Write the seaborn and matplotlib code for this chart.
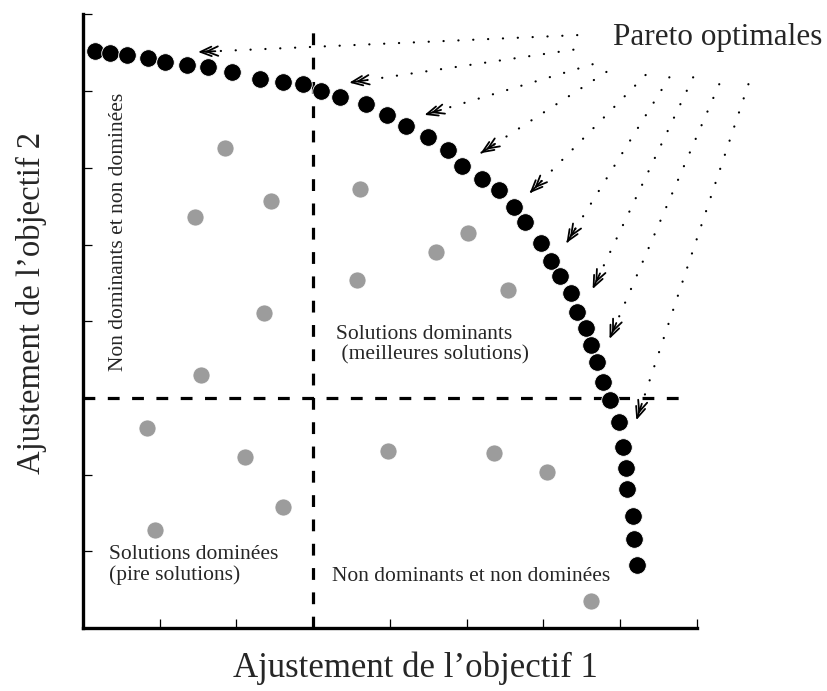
import matplotlib
matplotlib.use("Agg")
import matplotlib.pyplot as plt
import numpy as np
import pandas as pd
import seaborn as sns

# Pareto front (black points)
pareto_x = [0.16, 0.35, 0.57, 0.85, 1.07, 1.36, 1.63, 1.94, 2.31, 2.61,
            2.87, 3.10, 3.35, 3.69, 3.96, 4.21, 4.49, 4.75, 4.94, 5.20,
            5.42, 5.61, 5.76, 5.97, 6.10, 6.22, 6.36, 6.44, 6.55, 6.62,
            6.70, 6.78, 6.86, 6.98, 7.03, 7.07, 7.09, 7.16, 7.18, 7.22]
pareto_y = [7.52, 7.50, 7.47, 7.43, 7.38, 7.34, 7.31, 7.25, 7.16, 7.12,
            7.09, 7.00, 6.92, 6.83, 6.69, 6.55, 6.40, 6.23, 6.02, 5.85,
            5.71, 5.49, 5.29, 5.02, 4.78, 4.59, 4.37, 4.12, 3.91, 3.69,
            3.47, 3.21, 2.97, 2.69, 2.36, 2.09, 1.81, 1.46, 1.16, 0.82]

# other solutions (grey points)
other_x = [1.85, 2.45, 1.46, 3.61, 4.60, 5.01, 3.57, 5.54, 2.36,
           1.54, 0.83, 2.11, 3.98, 5.36, 6.05, 2.61, 0.94, 6.62]
other_y = [6.26, 5.57, 5.36, 5.72, 4.90, 5.15, 4.54, 4.41, 4.11,
           3.30, 2.61, 2.23, 2.31, 2.28, 2.03, 1.58, 1.28, 0.35]

# dotted arrows from the "Pareto optimales" label to the front
arrow_tail_x = [6.44, 6.39, 6.64, 6.82, 7.33, 7.64, 7.95, 8.29, 8.67]
arrow_tail_y = [7.73, 7.54, 7.35, 7.25, 7.21, 7.18, 7.18, 7.09, 7.09]
arrow_head_x = [1.50, 3.47, 4.45, 5.18, 5.82, 6.30, 6.64, 6.86, 7.21]
arrow_head_y = [7.51, 7.11, 6.69, 6.19, 5.67, 5.02, 4.42, 3.77, 2.71]

split_x = 3.0
split_y = 3.0
split_end = 7.9
axis_max = 8
ticks = [1, 2, 3, 4, 5, 6, 7, 8]

front = pd.DataFrame({"x": pareto_x, "y": pareto_y})
others = pd.DataFrame({"x": other_x, "y": other_y})

sns.set_style("white")
plt.rcParams['font.family'] = ['Liberation Serif', 'DejaVu Serif']
plt.rcParams['lines.scale_dashes'] = False

fig = plt.figure(figsize=(8.28, 6.91), dpi=100)
ax = fig.add_axes([83 / 828, 63 / 691, 614 / 828, 613.6 / 691])

# quadrant separators
ax.plot([split_x, split_x], [0, split_end], color='black', lw=2.3,
        linestyle=(0, (8.5, 9)), zorder=1)
ax.plot([0, split_end], [split_y, split_y], color='black', lw=2.3,
        linestyle=(0, (8.5, 9)), zorder=1)

sns.scatterplot(data=others, x="x", y="y", color='#9c9c9c', s=150,
                edgecolor='white', linewidth=0.5, ax=ax, zorder=3)
sns.scatterplot(data=front, x="x", y="y", color='black', s=160,
                edgecolor='white', linewidth=0.6, ax=ax, zorder=4)

# dotted pointers with double open arrowheads
for tx, ty, hx, hy in zip(arrow_tail_x, arrow_tail_y, arrow_head_x, arrow_head_y):
    ax.plot([tx, hx], [ty, hy], color='black', lw=1.6,
            linestyle=(0, (0.1, 10.6)), dash_capstyle='round',
            clip_on=False, zorder=2)
    d = np.array([tx - hx, ty - hy])
    u = d / np.hypot(*d)
    for off in (0.0, 0.085):
        start = (hx + u[0] * off, hy + u[1] * off)
        back = (hx + u[0] * (off + 0.14), hy + u[1] * (off + 0.14))
        ax.annotate('', xy=start, xytext=back,
                    arrowprops=dict(arrowstyle='->,head_length=0.8,head_width=0.34',
                                    color='black', lw=1.3, shrinkA=0, shrinkB=0),
                    annotation_clip=False, zorder=5)

ax.text(6.90, 7.60, 'Pareto optimales', fontsize=22.5, ha='left',
        va='baseline', clip_on=False)
ax.text(3.29, 3.69, 'Solutions dominants\n (meilleures solutions)',
        fontsize=15.5, ha='left', va='center', linespacing=1.05)
ax.text(0.34, 0.82, 'Solutions dominées\n(pire solutions)',
        fontsize=15.5, ha='left', va='center', linespacing=1.05)
ax.text(3.25, 0.67, 'Non dominants et non dominées',
        fontsize=15.5, ha='left', va='center')
ax.text(0.46, 5.16, 'Non dominants et non dominées', rotation=90,
        fontsize=15.5, ha='center', va='center')

ax.set_xlim(0, axis_max)
ax.set_ylim(0, axis_max)
ax.set_xticks(ticks)
ax.set_yticks(ticks)
ax.set_xticklabels([])
ax.set_yticklabels([])
ax.tick_params(direction='in', length=6.5, width=0.9, color='black',
               bottom=True, left=True)
ax.set_xlabel('')
ax.set_ylabel('')
sns.despine(ax=ax)
for side in ('left', 'bottom'):
    ax.spines[side].set_linewidth(2.4)
    ax.spines[side].set_color('black')

fig.text(415 / 828, 1 - 668 / 691, 'Ajustement de l’objectif 1',
         fontsize=25, ha='center', va='center')
fig.text(31 / 828, 1 - 303 / 691, 'Ajustement de l’objectif 2',
         fontsize=23.5, ha='center', va='center', rotation=90)

fig.savefig('out.png', dpi=100)
